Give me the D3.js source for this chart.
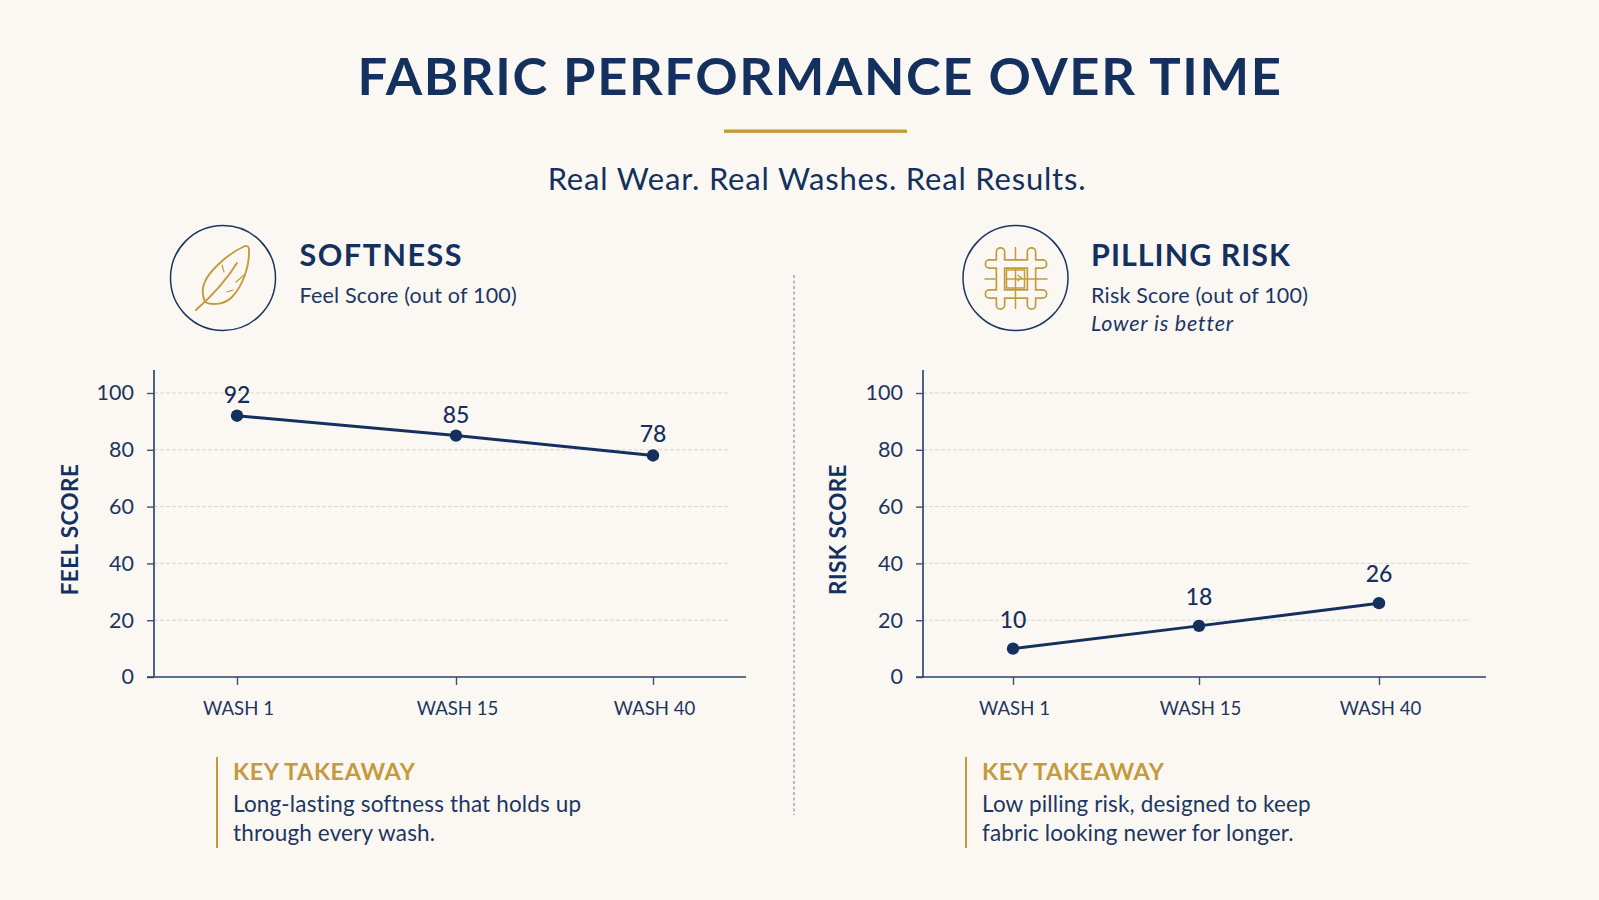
<!DOCTYPE html>
<html>
<head>
<meta charset="utf-8">
<title>Fabric Performance Over Time</title>
<script src="https://cdn.jsdelivr.net/npm/d3@7/dist/d3.min.js"></script>
<style>
  html, body { margin: 0; background: #fbf8f3; }
  svg { display: block; font-family: "Lato", "Open Sans", sans-serif; }
  .tick text { fill: #1d3661; }
</style>
</head>
<body>
<svg id="chart" width="1599" height="900"></svg>
<script>
// Shared chart content
const washes = [1, 15, 40];
const washLabels = ["WASH 1", "WASH 15", "WASH 40"];
const scoreTicks = [0, 20, 40, 60, 80, 100];

// Series values
const softnessScores = [92, 85, 78];
const pillingScores = [10, 18, 26];

// Palette
const navy = "#14305f";
const gold = "#c49a3c";
const paper = "#fbf8f3";

const svg = d3.select("#chart");
svg.append("rect").attr("width", 1599).attr("height", 900).attr("fill", paper);

// Page heading
svg.append("text").attr("x", 820).attr("y", 95).attr("text-anchor", "middle")
  .attr("font-size", 52.5).attr("font-weight", 700).attr("letter-spacing", 1.6)
  .attr("fill", navy).text("FABRIC PERFORMANCE OVER TIME");
svg.append("rect").attr("x", 724).attr("y", 129.5).attr("width", 183).attr("height", 3.4).attr("fill", gold);
svg.append("text").attr("x", 817).attr("y", 190).attr("text-anchor", "middle")
  .attr("font-size", 31).attr("letter-spacing", 0.8).attr("fill", navy)
  .text("Real Wear. Real Washes. Real Results.");

// Divider between the two panels
svg.append("line").attr("x1", 794).attr("x2", 794).attr("y1", 275).attr("y2", 815)
  .attr("stroke", "#8a8f98").attr("stroke-width", 1.2).attr("stroke-dasharray", "3 2.5");

const yScale = d3.scaleLinear().domain([0, 100]).range([677, 393]);

function drawFeather(g) {
  g.attr("fill", "none").attr("stroke", gold).attr("stroke-width", 1.9)
    .attr("stroke-linecap", "round").attr("stroke-linejoin", "round");
  g.append("path").attr("d", "M-18,24 C-21,17 -21,12 -19,6 C-15,-6 4,-24 22,-32 C27,-33 26,-27 26,-25 C26,-12 20,8 9,19 C2,26 -10,28 -18,24 Z");
  g.append("path").attr("d", "M-27,32 C-10,17 6,-2 14,-15");
  g.append("path").attr("stroke-width", 1.2).attr("d", "M21,-3 L13,4 M10,12 L4,14 M-1,-13 L1,-6");
}

function drawWeave(g) {
  const strands = [
    "M-15,-26 V27", "M16,-26 V27",
    "M-26,-14 H27", "M-26,16 H27"
  ];
  // A thick gold stroke with a paper-coloured core leaves only the strand outlines
  g.selectAll(".outer").data(strands).join("path").attr("class", "outer")
    .attr("d", d => d).attr("fill", "none").attr("stroke", gold).attr("stroke-width", 10).attr("stroke-linecap", "round");
  g.selectAll(".inner").data(strands).join("path").attr("class", "inner")
    .attr("d", d => d).attr("fill", "none").attr("stroke", paper).attr("stroke-width", 6.6).attr("stroke-linecap", "round");
  g.append("path").attr("fill", "none").attr("stroke", gold).attr("stroke-width", 1.5)
    .attr("d", "M0,-31 V-19 M0,-9 V31 M-31,1 H-20 M-10,1 H32 M-9,-8 H9 V10 H-9 Z M2,-3 L6,0 L2,3");
}

function drawPanel(p) {
  const g = svg.append("g");

  // Icon badge
  const badge = g.append("g").attr("transform", `translate(${p.iconX},278)`);
  badge.append("circle").attr("r", 52.5).attr("fill", "none").attr("stroke", "#1d3661").attr("stroke-width", 1.5);
  p.icon(badge.append("g"));

  // Panel heading
  g.append("text").attr("x", p.headX).attr("y", 266).attr("font-size", 30.5).attr("font-weight", 700)
    .attr("letter-spacing", p.titleSpacing).attr("fill", navy).text(p.title);
  g.append("text").attr("x", p.headX).attr("y", 303).attr("font-size", 21.5).attr("letter-spacing", 0.2)
    .attr("fill", "#1d3661").text(p.subtitle);
  if (p.note) {
    g.append("text").attr("x", p.headX).attr("y", 331).attr("font-size", 21.5).attr("font-style", "italic")
      .attr("letter-spacing", 0.8).attr("fill", "#1d3661").text(p.note);
  }

  const x = d3.scaleLinear().domain(washes).range(p.xStops);

  // Dashed gridlines above zero
  g.append("g").selectAll("line").data(scoreTicks.slice(1)).join("line")
    .attr("x1", p.axisX).attr("x2", p.gridEnd)
    .attr("y1", d => yScale(d)).attr("y2", d => yScale(d))
    .attr("stroke", "#d9d6cc").attr("stroke-width", 1).attr("stroke-dasharray", "4 2");

  // Value axis
  const yAxis = g.append("g").attr("transform", `translate(${p.axisX},0)`)
    .call(d3.axisLeft(yScale).tickValues(scoreTicks).tickSize(7).tickPadding(13));
  yAxis.select(".domain").remove();
  yAxis.selectAll("line").attr("stroke", "#3d5278").attr("stroke-width", 1.4);
  yAxis.selectAll("text").attr("font-size", 21.5).attr("font-family", "Lato");
  g.append("line").attr("x1", p.axisX).attr("x2", p.axisX).attr("y1", 370).attr("y2", 677)
    .attr("stroke", "#3d5278").attr("stroke-width", 1.8);

  // Wash axis
  const xAxis = g.append("g").attr("transform", "translate(0,677)")
    .call(d3.axisBottom(x).tickValues(washes).tickFormat((d, i) => washLabels[i]).tickSize(8).tickPadding(17));
  xAxis.select(".domain").remove();
  xAxis.selectAll("line").attr("stroke", "#3d5278").attr("stroke-width", 1.4);
  xAxis.selectAll("text").attr("font-size", 18.6).attr("font-family", "Lato").attr("dx", 1);
  g.append("line").attr("x1", p.axisX - 7).attr("x2", p.axisEnd).attr("y1", 677).attr("y2", 677)
    .attr("stroke", "#2a4169").attr("stroke-width", 1.6);

  // Axis title
  g.append("text").attr("transform", `translate(${p.axisTitleX},529.5) rotate(-90)`)
    .attr("text-anchor", "middle").attr("font-size", 22.5).attr("font-weight", 700)
    .attr("letter-spacing", 0.4).attr("fill", navy).text(p.axisTitle);

  // Series line, points and value labels
  const points = washes.map((w, i) => ({ w, v: p.values[i] }));
  g.append("path").datum(points)
    .attr("d", d3.line().x(d => x(d.w)).y(d => yScale(d.v)))
    .attr("fill", "none").attr("stroke", navy).attr("stroke-width", 3);
  g.selectAll(".pt").data(points).join("circle").attr("class", "pt")
    .attr("cx", d => x(d.w)).attr("cy", d => yScale(d.v)).attr("r", 6.2).attr("fill", navy);
  g.selectAll(".val").data(points).join("text").attr("class", "val")
    .attr("x", d => x(d.w)).attr("y", d => yScale(d.v) - p.labelGap)
    .attr("text-anchor", "middle").attr("dominant-baseline", "central")
    .attr("font-size", 23).attr("font-weight", 500).attr("fill", navy).text(d => d.v);

  // Key takeaway block
  g.append("rect").attr("x", p.takeX).attr("y", 757).attr("width", 2).attr("height", 91).attr("fill", gold);
  g.append("text").attr("x", p.takeX + 17).attr("y", 780).attr("font-size", 23.5).attr("font-weight", 700)
    .attr("letter-spacing", 0.55).attr("fill", gold).text("KEY TAKEAWAY");
  g.selectAll(".take").data(p.takeaway).join("text").attr("class", "take")
    .attr("x", p.takeX + 17).attr("y", (d, i) => 812 + i * 29)
    .attr("font-size", 22.5).attr("letter-spacing", 0.15).attr("fill", "#1d3661").text(d => d);
}

drawPanel({
  title: "SOFTNESS", titleSpacing: 1.5, subtitle: "Feel Score (out of 100)", axisTitle: "FEEL SCORE",
  values: softnessScores, icon: drawFeather, iconX: 223, headX: 299.5,
  axisX: 154, gridEnd: 730, axisEnd: 746, axisTitleX: 78, xStops: [237, 456, 653], labelGap: 22,
  takeX: 216, takeaway: ["Long-lasting softness that holds up", "through every wash."]
});

drawPanel({
  title: "PILLING RISK", titleSpacing: 1, subtitle: "Risk Score (out of 100)", note: "Lower is better", axisTitle: "RISK SCORE",
  values: pillingScores, icon: drawWeave, iconX: 1015.5, headX: 1091,
  axisX: 923, gridEnd: 1470, axisEnd: 1486, axisTitleX: 846, xStops: [1013, 1199, 1379], labelGap: 30,
  takeX: 965, takeaway: ["Low pilling risk, designed to keep", "fabric looking newer for longer."]
});
</script>
</body>
</html>
